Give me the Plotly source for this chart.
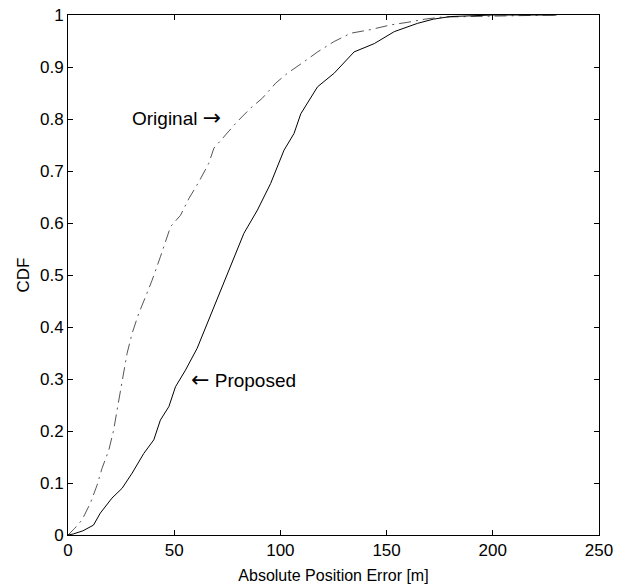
import plotly.graph_objects as go

# Empirical CDF of absolute position error, proposed method (solid)
proposed_err = [0, 2.5, 7, 12, 15.2, 20.7, 25.5, 30.2, 35.7, 40.4, 43.5, 47.5, 50.6,
                55.3, 60.8, 65.6, 70.3, 76.6, 82.8, 89.2, 95.4, 101.7, 106.4, 109.6,
                117.5, 125.3, 134.7, 144.2, 153.6, 164.6, 172, 180, 190, 200, 230]
proposed_cdf = [0, 0.002, 0.008, 0.019, 0.042, 0.071, 0.09, 0.119, 0.157, 0.183, 0.221,
                0.247, 0.285, 0.317, 0.359, 0.407, 0.452, 0.516, 0.58, 0.625, 0.676,
                0.74, 0.772, 0.81, 0.862, 0.888, 0.929, 0.945, 0.968, 0.984, 0.992,
                0.997, 0.999, 1.0, 1.0]

# Empirical CDF of absolute position error, original method (dashed)
original_err = [0, 3, 6.6, 10.5, 13.7, 16, 19.2, 21.5, 23.1, 24.7, 26.2, 27.8, 30.2,
                33.3, 36.5, 39.6, 43.5, 48.3, 53, 56.9, 61.6, 66.3, 68.7, 74.2, 79.7,
                86, 91.5, 97.8, 103.3, 111.1, 117.5, 125.3, 133.2, 142.6, 152, 160,
                168, 176, 200, 229]
original_cdf = [0, 0.012, 0.029, 0.061, 0.096, 0.128, 0.163, 0.202, 0.24, 0.279, 0.317,
                0.349, 0.388, 0.426, 0.458, 0.49, 0.535, 0.593, 0.615, 0.647, 0.679,
                0.715, 0.744, 0.769, 0.795, 0.821, 0.84, 0.869, 0.888, 0.91, 0.929,
                0.949, 0.965, 0.972, 0.981, 0.986, 0.992, 0.996, 0.998, 1.0]

x_ticks = [0, 50, 100, 150, 200, 250]
y_ticks = [0, 0.1, 0.2, 0.3, 0.4, 0.5, 0.6, 0.7, 0.8, 0.9, 1]
y_tick_text = ["0", "0.1", "0.2", "0.3", "0.4", "0.5", "0.6", "0.7", "0.8", "0.9", "1"]

FONT = "Liberation Sans, Arial, DejaVu Sans, sans-serif"
ARROW = "<span style='font-family:DejaVu Sans;font-size:22px'>{}</span>"

fig = go.Figure()
fig.add_trace(go.Scatter(
    x=original_err, y=original_cdf, mode="lines",
    line=dict(color="#555555", width=1, dash="12px,5px,2px,5px"),
    showlegend=False, hoverinfo="skip"))
fig.add_trace(go.Scatter(
    x=proposed_err, y=proposed_cdf, mode="lines",
    line=dict(color="black", width=1),
    showlegend=False, hoverinfo="skip"))

fig.add_annotation(x=29.0, y=0.802, xref="x", yref="y",
                   text="Original " + ARROW.format("→"),
                   showarrow=False, xanchor="left", yanchor="middle",
                   font=dict(family=FONT, size=19, color="black"))
fig.add_annotation(x=57.0, y=0.3, xref="x", yref="y",
                   text=ARROW.format("←") + " Proposed",
                   showarrow=False, xanchor="left", yanchor="middle",
                   font=dict(family=FONT, size=19, color="black"))

axis_common = dict(showline=True, linecolor="black", linewidth=1, mirror="ticks",
                   ticks="inside", ticklen=5, tickcolor="black", tickwidth=1,
                   showgrid=False, zeroline=False, automargin=False,
                   tickfont=dict(family=FONT, size=17, color="black"))

fig.update_xaxes(range=[0, 250], tickvals=x_ticks,
                 title=dict(text="Absolute Position Error [m]", standoff=10,
                            font=dict(family=FONT, size=16, color="black")),
                 **axis_common)
fig.update_yaxes(range=[0, 1], tickvals=y_ticks, ticktext=y_tick_text,
                 title=dict(text="CDF", standoff=6,
                            font=dict(family=FONT, size=17, color="black")),
                 **axis_common)

fig.update_layout(width=624, height=587, plot_bgcolor="white", paper_bgcolor="white",
                  margin=dict(l=68, r=25, t=15, b=52))

fig.write_html("out.html")
